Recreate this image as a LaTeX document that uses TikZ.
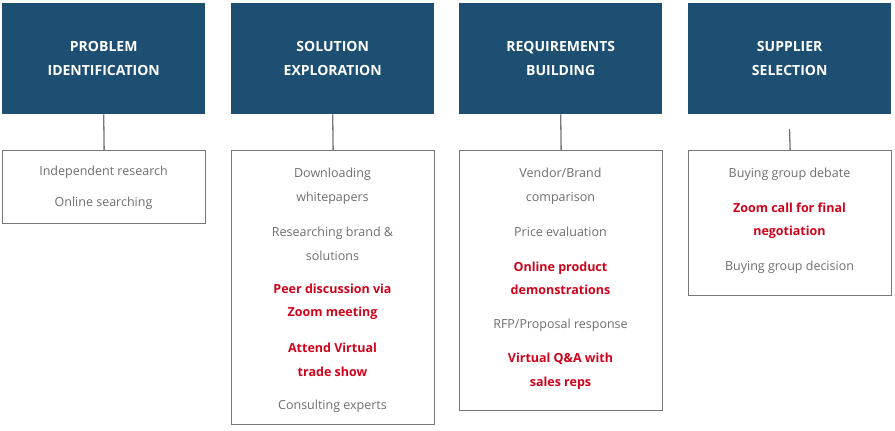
\documentclass[tikz,border=0pt]{standalone}
\usepackage{fontspec}
\setmainfont{Open Sans}
\usetikzlibrary{positioning}
\definecolor{headblue}{HTML}{1D4F73}
\definecolor{itemgray}{HTML}{6E6E6E}
\definecolor{boxgray}{HTML}{777777}
\definecolor{zoomred}{HTML}{D0021B}
\tikzset{
  stagehead/.style={fill=headblue, text=white, font=\fontsize{14}{23.5}\selectfont\bfseries, align=center, minimum width=203pt, minimum height=111pt, anchor=north west, inner sep=0pt},
  stagebox/.style={draw=boxgray, line width=1.3pt, anchor=north west, minimum width=203pt, inner sep=0pt},
  item/.style={text=itemgray, font=\fontsize{12.5}{23.5}\selectfont, align=center},
  zoomitem/.style={text=zoomred, font=\fontsize{12.5}{23.5}\selectfont\bfseries, align=center},
  link/.style={draw=boxgray, line width=1.3pt}
}
\begin{document}
\begin{tikzpicture}[x=1pt,y=-1pt]
    \useasboundingbox (0,0) rectangle (895,431);

    \node[stagehead] (problem) at (2,3) {PROBLEM\\IDENTIFICATION};
    \node[stagehead] (solution) at (231,3) {SOLUTION\\EXPLORATION};
    \node[stagehead] (require) at (459,3) {REQUIREMENTS\\BUILDING};
    \node[stagehead] (supplier) at (688,3) {SUPPLIER\\SELECTION};

    \node[stagebox, minimum height=73pt] (problembox) at (2,150) {};
    \node[stagebox, minimum height=274pt] (solutionbox) at (231,150) {};
    \node[stagebox, minimum height=260pt] (requirebox) at (459,150) {};
    \node[stagebox, minimum height=145pt] (supplierbox) at (688,150) {};

    \coordinate (supplierstub) at (789.5,129);
    \draw[link] (problem.south) -- (problembox.north);
    \draw[link] (solution.south) -- (solutionbox.north);
    \draw[link] (require.south) -- (requirebox.north);
    \draw[link] (supplierstub) -- (supplierbox.north);

    % problem identification
    \node[item] (indep) at (103.5,172) {Independent research};
    \node[item] (online) at (103.5,203) {Online searching};

    % solution exploration
    \node[item] (download) at (332.5,186.5) {Downloading\\whitepapers};
    \node[item] (brand) at (332.5,244) {Researching brand \&\\solutions};
    \node[zoomitem] (peer) at (332.5,302) {Peer discussion via\\Zoom meeting};
    \node[zoomitem] (trade) at (332.5,360) {Attend Virtual\\trade show};
    \node[item] (consult) at (332.5,406) {Consulting experts};

    % requirements building
    \node[item] (vendor) at (560.5,186.5) {Vendor/Brand\\comparison};
    \node[item] (price) at (560.5,232) {Price evaluation};
    \node[zoomitem] (demo) at (560.5,278.5) {Online product\\demonstrations};
    \node[item] (rfp) at (560.5,325) {RFP/Proposal response};
    \node[zoomitem] (qa) at (560.5,371) {Virtual Q\&A with\\sales reps};

    % supplier selection
    \node[item] (debate) at (789.5,174) {Buying group debate};
    \node[zoomitem] (final) at (789.5,220.5) {Zoom call for final\\negotiation};
    \node[item] (decision) at (789.5,267) {Buying group decision};
\end{tikzpicture}
\end{document}
